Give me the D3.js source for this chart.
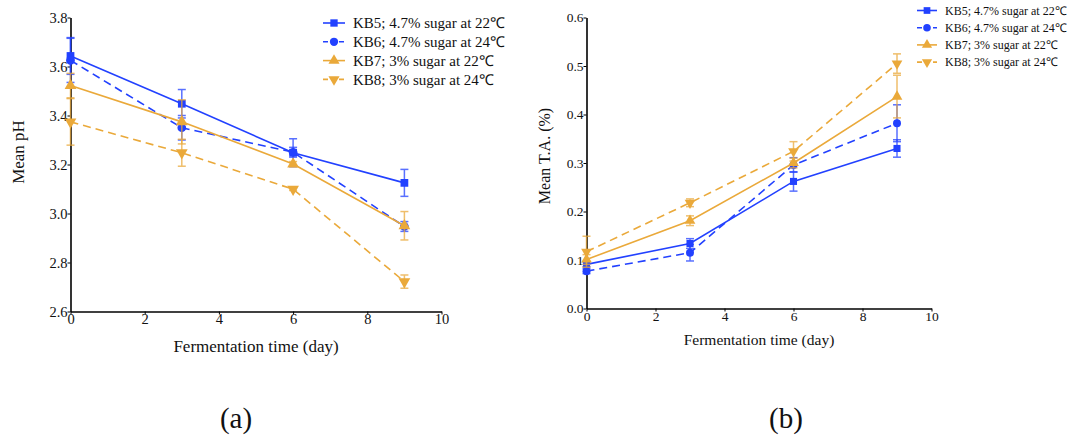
<!DOCTYPE html>
<html>
<head>
<meta charset="utf-8">
<script src="https://cdn.jsdelivr.net/npm/d3@7"></script>
<style>
body { margin: 0; background: #fff; }
</style>
</head>
<body>
<svg id="chart" width="1077" height="435"></svg>
<script>
var days = [0, 3, 6, 9];
var seriesNames = ["KB5; 4.7% sugar at 22\u2103", "KB6; 4.7% sugar at 24\u2103",
                   "KB7; 3% sugar at 22\u2103", "KB8; 3% sugar at 24\u2103"];

// pH
var phKB5 = [3.643, 3.448, 3.248, 3.125];
var phKB6 = [3.625, 3.35, 3.25, 2.947];
var phKB7 = [3.522, 3.374, 3.202, 2.95];
var phKB8 = [3.374, 3.248, 3.099, 2.722];
var phErrKB5 = [0.075, 0.058, 0.057, 0.055];
var phErrKB6 = [0.09, 0.05, 0.02, 0.02];
var phErrKB7 = [0.05, 0.09, 0.01, 0.058];
var phErrKB8 = [0.095, 0.055, 0.005, 0.027];

// T.A.
var taKB5 = [0.091, 0.134, 0.262, 0.330];
var taKB6 = [0.077, 0.115, 0.296, 0.382];
var taKB7 = [0.101, 0.181, 0.300, 0.437];
var taKB8 = [0.117, 0.218, 0.324, 0.505];
var taErrKB5 = [0.005, 0.01, 0.02, 0.018];
var taErrKB6 = [0.005, 0.017, 0.015, 0.038];
var taErrKB7 = [0.01, 0.01, 0.01, 0.044];
var taErrKB8 = [0.032, 0.008, 0.02, 0.02];

var blue = "#2241ff";
var orange = "#eaa93a";
var colors = [blue, blue, orange, orange];
var dashes = [null, "8,5", null, "8,5"];
var symbols = [d3.symbolSquare, d3.symbolCircle, d3.symbolTriangle, "down"];
var serif = "Liberation Serif, Times New Roman, serif";

var svg = d3.select("#chart");

function marker(g, i, x, y, size) {
  var s = symbols[i];
  var p;
  if (s == "down") {
    p = g.append("path").attr("d", d3.symbol(d3.symbolTriangle, size)())
      .attr("transform", "translate(" + x + "," + y + ") rotate(180)");
  } else {
    p = g.append("path").attr("d", d3.symbol(s, size)())
      .attr("transform", "translate(" + x + "," + y + ")");
  }
  p.attr("fill", colors[i]);
}

function drawPanel(opts) {
  var x = d3.scaleLinear().domain([0, 10]).range([opts.left, opts.right]);
  var y = d3.scaleLinear().domain(opts.yDomain).range([opts.bottom, opts.top]);
  var g = svg.append("g");

  var xAxis = g.append("g").attr("transform", "translate(0," + opts.bottom + ")")
    .call(d3.axisBottom(x).tickValues([0, 2, 4, 6, 8, 10]).tickSize(3).tickSizeOuter(0));
  var yAxis = g.append("g").attr("transform", "translate(" + opts.left + ",0)")
    .call(d3.axisLeft(y).tickValues(opts.yTicks).tickFormat(d3.format(".1f")).tickSize(3).tickSizeOuter(0));
  [xAxis, yAxis].forEach(function(a) {
    a.attr("font-family", serif).attr("font-size", opts.tickFont);
    a.selectAll("path.domain").attr("stroke", "#000").attr("stroke-width", 1.6);
    a.selectAll(".tick line").attr("stroke", "#000");
    a.selectAll(".tick text").attr("fill", "#111");
  });
  xAxis.selectAll(".tick text").attr("y", 2).attr("dy", "0.75em");
  yAxis.selectAll(".tick text").attr("x", -3);

  g.append("text").attr("x", (opts.left + opts.right) / 2).attr("y", opts.xTitleY)
    .attr("text-anchor", "middle").attr("font-size", opts.titleFont).attr("fill", "#111")
    .attr("font-family", serif).text("Fermentation time (day)");
  g.append("text").attr("transform", "translate(" + opts.yTitleX + "," + opts.yTitleY + ") rotate(-90)")
    .attr("text-anchor", "middle").attr("font-size", opts.yTitleFont).attr("fill", "#111")
    .attr("font-family", serif).text(opts.yTitle);

  var line = d3.line().x(function(d) { return x(d[0]); }).y(function(d) { return y(d[1]); });

  opts.values.forEach(function(vals, i) {
    var pts = days.map(function(d, j) { return [d, vals[j]]; });
    // error bars
    days.forEach(function(d, j) {
      var e = opts.errors[i][j];
      var eg = g.append("g").attr("stroke", colors[i]).attr("stroke-width", 1.5).attr("opacity", 0.75);
      eg.append("line").attr("x1", x(d)).attr("x2", x(d)).attr("y1", y(vals[j] - e)).attr("y2", y(vals[j] + e));
      eg.append("line").attr("x1", x(d) - 4).attr("x2", x(d) + 4).attr("y1", y(vals[j] - e)).attr("y2", y(vals[j] - e));
      eg.append("line").attr("x1", x(d) - 4).attr("x2", x(d) + 4).attr("y1", y(vals[j] + e)).attr("y2", y(vals[j] + e));
    });
    g.append("path").datum(pts).attr("d", line).attr("fill", "none")
      .attr("stroke", colors[i]).attr("stroke-width", 1.6)
      .attr("stroke-dasharray", dashes[i]);
    pts.forEach(function(p) { marker(g, i, x(p[0]), y(p[1]), opts.markerSize); });
  });

  // legend
  seriesNames.forEach(function(name, i) {
    var ly = opts.legY + i * opts.legStep;
    g.append("line").attr("x1", opts.legX).attr("x2", opts.legX + opts.legLen)
      .attr("y1", ly).attr("y2", ly).attr("stroke", colors[i]).attr("stroke-width", 1.6)
      .attr("stroke-dasharray", dashes[i] ? "5,3" : null);
    marker(g, i, opts.legX + opts.legLen / 2, ly, opts.markerSize * 0.9);
    g.append("text").attr("x", opts.legX + opts.legLen + 8).attr("y", ly).attr("dy", "0.35em")
      .attr("font-size", opts.legFont).attr("fill", "#111").attr("font-family", serif).text(name);
  });

  g.append("text").attr("x", opts.labelX).attr("y", 428).attr("text-anchor", "middle")
    .attr("font-size", 29).attr("fill", "#111").attr("font-family", serif).text(opts.label);
}

drawPanel({
  left: 70.5, right: 441.5, top: 17.5, bottom: 311.5,
  yDomain: [2.6, 3.8], yTicks: [2.6, 2.8, 3.0, 3.2, 3.4, 3.6, 3.8],
  values: [phKB5, phKB6, phKB7, phKB8],
  errors: [phErrKB5, phErrKB6, phErrKB7, phErrKB8],
  yTitle: "Mean pH", yTitleX: 24, yTitleY: 152, xTitleY: 352,
  tickFont: 14.5, titleFont: 17, yTitleFont: 17, markerSize: 60,
  legX: 323, legY: 23, legStep: 18.8, legLen: 22, legFont: 15,
  label: "(a)", labelX: 236
});

drawPanel({
  left: 586.5, right: 931.5, top: 17.5, bottom: 308.5,
  yDomain: [0, 0.6], yTicks: [0, 0.1, 0.2, 0.3, 0.4, 0.5, 0.6],
  values: [taKB5, taKB6, taKB7, taKB8],
  errors: [taErrKB5, taErrKB6, taErrKB7, taErrKB8],
  yTitle: "Mean T.A. (%)", yTitleX: 550, yTitleY: 156, xTitleY: 345,
  tickFont: 13.5, titleFont: 15.5, yTitleFont: 16, markerSize: 50,
  legX: 917, legY: 10.5, legStep: 17.2, legLen: 20, legFont: 12,
  label: "(b)", labelX: 786
});
</script>
</body>
</html>
